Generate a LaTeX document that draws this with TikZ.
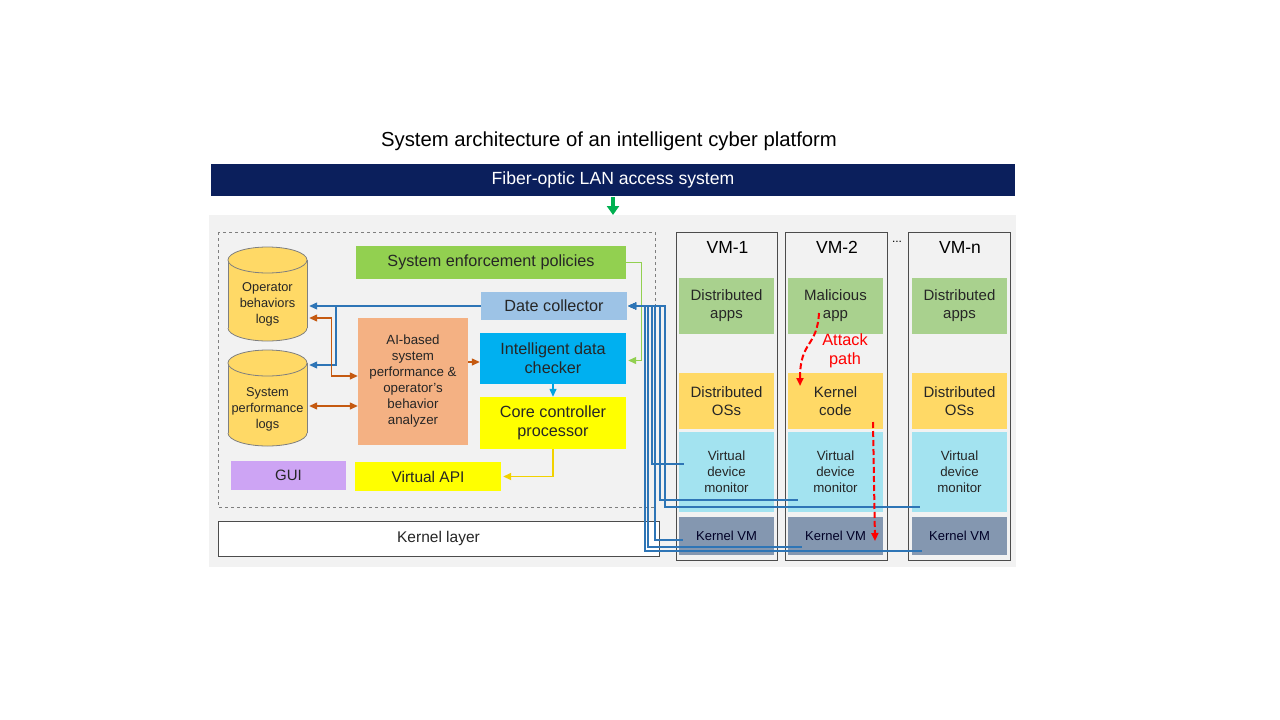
\documentclass[tikz,border=0pt]{standalone}
\usepackage{fontspec}
\setmainfont{Liberation Sans}
\usetikzlibrary{arrows.meta,calc}
\definecolor{navy}{HTML}{0B1F5C}
\definecolor{panel}{HTML}{F2F2F2}
\definecolor{polgreen}{HTML}{92D050}
\definecolor{dcblue}{HTML}{9DC3E6}
\definecolor{idcblue}{HTML}{00B0F0}
\definecolor{yel}{HTML}{FFFF00}
\definecolor{guipurple}{HTML}{CDA4F4}
\definecolor{aiorange}{HTML}{F4B183}
\definecolor{cylfill}{HTML}{FFD966}
\definecolor{cylline}{HTML}{7F7F7F}
\definecolor{vmgreen}{HTML}{A9D18E}
\definecolor{vmyellow}{HTML}{FFD966}
\definecolor{vmcyan}{HTML}{A3E3F0}
\definecolor{vmkern}{HTML}{8497B0}
\definecolor{linkblue}{HTML}{2E75B6}
\definecolor{linkorange}{HTML}{C55A11}
\definecolor{linkcyan}{HTML}{00A3E0}
\definecolor{linkyellow}{HTML}{F2D200}
\definecolor{linkgreen}{HTML}{92D050}
\definecolor{arrgreen}{HTML}{00B050}
\definecolor{txtdark}{HTML}{262626}
\tikzset{
  box/.style={rectangle, inner sep=0pt, align=center, text=txtdark},
  fA/.style={font=\fontsize{16.2}{19}\selectfont},
  fB/.style={font=\fontsize{15}{18}\selectfont},
  fC/.style={font=\fontsize{13.3}{16}\selectfont},
  tip/.style={-{Triangle[length=8pt,width=7pt]}},
  bll/.style={draw=linkblue, line width=1.1pt},
  orl/.style={draw=linkorange, line width=1.3pt, {Triangle[length=8pt,width=7pt]}-{Triangle[length=8pt,width=7pt]}},
  vmcol/.style={rectangle, draw=black!70, line width=1pt, minimum width=101pt, minimum height=328pt, inner sep=0pt},
  vmin/.style={box, minimum width=95pt, fB},
  attack/.style={draw=red, line width=2pt, dash pattern=on 6pt off 3pt, -{Triangle[length=8pt,width=7pt]}},
}
\begin{document}
\begin{tikzpicture}[x=1pt,y=-1pt]
\useasboundingbox (0,0) rectangle (1280,720);
% title
\node[box, text=black, font=\fontsize{20.3}{24}\selectfont] (title) at (609,141) {System architecture of an intelligent cyber platform};
% LAN bar
\node[box, fill=navy, text=white, minimum width=804pt, minimum height=32pt, font=\fontsize{17.6}{20}\selectfont] (lan) at (613,180) {Fiber-optic LAN access system};
% panel
\fill[panel] (209,215) rectangle (1016,567);
\coordinate (lanin) at (613,215);
\draw[draw=arrgreen, line width=3.2pt, -{Triangle[length=9pt,width=12pt]}] (lan.south -| lanin) ++(0,1) -- (lanin);
% dashed frame
\draw[cylline, line width=0.8pt, dashed] (218,232) rectangle (655,507);
% boxes
\node[box, fill=polgreen, minimum width=270pt, minimum height=33pt, font=\fontsize{16.2}{19}\selectfont] (pol) at (491,262.5) {System enforcement policies};
\node[box, fill=dcblue, minimum width=146pt, minimum height=28pt, fA] (dc) at (554,306) {Date collector};
\node[box, fill=idcblue, minimum width=146pt, minimum height=51pt, fA] (idc) at (553,358.5) {Intelligent data\\checker};
\node[box, fill=yel, minimum width=146pt, minimum height=52pt, fA] (ccp) at (553,423) {Core controller\\processor};
\node[box, fill=yel, minimum width=146pt, minimum height=29pt, font=\fontsize{15.5}{18}\selectfont] (vapi) at (428,476.5) {Virtual API};
\node[box, fill=guipurple, minimum width=115pt, minimum height=29pt, fB] (gui) at (288.5,475.5) {GUI};
\node[box, fill=aiorange, minimum width=110pt, minimum height=127pt, fC] (ai) at (413,381.5) {AI-based\\system\\performance \&\\operator's\\behavior\\analyzer};
% cylinders
\fill[cylfill] (228,260) rectangle (307,328);
\begin{scope}\clip (225,328) rectangle (310,345);
\filldraw[fill=cylfill, draw=cylline, line width=0.8pt] (267.5,328) ellipse [x radius=39.5, y radius=13];
\end{scope}
\draw[cylline, line width=0.8pt] (228,260) -- (228,328) (307,260) -- (307,328);
\filldraw[fill=cylfill, draw=cylline, line width=0.8pt] (267.5,260) ellipse [x radius=39.5, y radius=13];
\fill[cylfill] (228,363) rectangle (307,433);
\begin{scope}\clip (225,433) rectangle (310,450);
\filldraw[fill=cylfill, draw=cylline, line width=0.8pt] (267.5,433) ellipse [x radius=39.5, y radius=13];
\end{scope}
\draw[cylline, line width=0.8pt] (228,363) -- (228,433) (307,363) -- (307,433);
\filldraw[fill=cylfill, draw=cylline, line width=0.8pt] (267.5,363) ellipse [x radius=39.5, y radius=13];
\node[box, minimum width=79pt, font=\fontsize{12.8}{16}\selectfont] (op) at (267.5,304) {Operator\\behaviors\\logs};
\node[box, minimum width=79pt, font=\fontsize{12.8}{16}\selectfont] (sp) at (267.5,409) {System\\performance\\logs};
% kernel layer
\node[box, fill=white, draw=black!70, line width=1pt, minimum width=441pt, minimum height=35pt, font=\fontsize{15.5}{18}\selectfont] (kl) at (438.5,538.5) {Kernel layer};
% VM columns
\node[vmcol] (vm1) at (726.5,396) {};
\node[vmcol, minimum width=102pt] (vm2) at (836,396) {};
\node[vmcol, minimum width=102pt] (vmn) at (959,396) {};
\node[box, text=black, font=\fontsize{17.5}{20}\selectfont] (vm1t) at (727.5,247) {VM-1};
\node[box, text=black, font=\fontsize{17.5}{20}\selectfont] (vm2t) at (837,247) {VM-2};
\node[box, text=black, font=\fontsize{17.5}{20}\selectfont] (vmnt) at (960,247) {VM-n};
\node[box, text=black, font=\fontsize{12}{14}\selectfont] (dots) at (897,242) {...};
\foreach \n/\x/\ta/\tb in {1/726.5/Distributed\\apps/Distributed\\OSs, 2/835.5/Malicious\\app/Kernel\\code, n/959.5/Distributed\\apps/Distributed\\OSs}{
  \node[vmin, fill=vmgreen, minimum height=56pt] (app\n) at (\x,306) {\ta};
  \node[vmin, fill=vmyellow, minimum height=56pt] (os\n) at (\x,401) {\tb};
  \node[vmin, fill=vmcyan, minimum height=80pt, fC] (vdm\n) at (\x,472) {Virtual\\device\\monitor};
  \node[vmin, fill=vmkern, minimum height=38pt, font=\fontsize{13}{15}\selectfont, text=black!85!blue] (kvm\n) at (\x,536) {Kernel VM};
}
% internal connectors
\draw[bll, tip] (dc.west) -- ($(op.east |- dc.west)+(2,0)$);
\coordinate (br) at (336,306);
\draw[bll, tip] (br) |- ($(sp.east)+(2,-44)$);
\draw[orl] ($(op.east)+(2,14)$) -- ++(22,0) |- ($(ai.west)+(0,-5.5)$);
\draw[orl] ($(sp.east)+(2,-3)$) -- ($(ai.west |- sp.east)+(0,-3)$);
\draw[draw=linkorange, line width=1.3pt, tip] ($(ai.east)+(0,-19.5)$) -- ($(idc.west |- ai.east)+(0,-19.5)$);
\draw[draw=linkgreen, line width=1.2pt, tip] (pol.east) -| ($(idc.east)+(15,2)$) -- ($(idc.east)+(2,2)$);
\draw[draw=linkcyan, line width=1.3pt, tip] (idc.south) -- (ccp.north);
\draw[draw=linkyellow, line width=1.8pt, tip] (ccp.south) |- ($(vapi.east)+(2,0)$);
% VM to data collector
\draw[bll, tip] ($(kvmn.west)+(10,15)$) -| (645,306) -- ($(dc.east)+(1,0)$);
\draw[bll, tip] ($(kvm2.west)+(14,11)$) -| (648,306) -- ($(dc.east)+(1,0)$);
\draw[bll, tip] ($(vdm1.west)+(5,-8)$) -| (652,306) -- ($(dc.east)+(1,0)$);
\draw[bll, tip] ($(kvm1.west)+(4,4)$) -| (655,306) -- ($(dc.east)+(1,0)$);
\draw[bll, tip] ($(vdm2.west)+(10,28)$) -| (660,306) -- ($(dc.east)+(1,0)$);
\draw[bll, tip] ($(vdmn.west)+(8,35)$) -| (665,306) -- ($(dc.east)+(1,0)$);
% attack path
\draw[attack] (819,313) .. controls (817,348) and (800,340) .. (800,386);
\draw[attack] (873,422) -- (875,541);
\node[box, text=red, font=\fontsize{16.3}{19}\selectfont] (atk) at (845,350.5) {Attack\\path};
\end{tikzpicture}
\end{document}
